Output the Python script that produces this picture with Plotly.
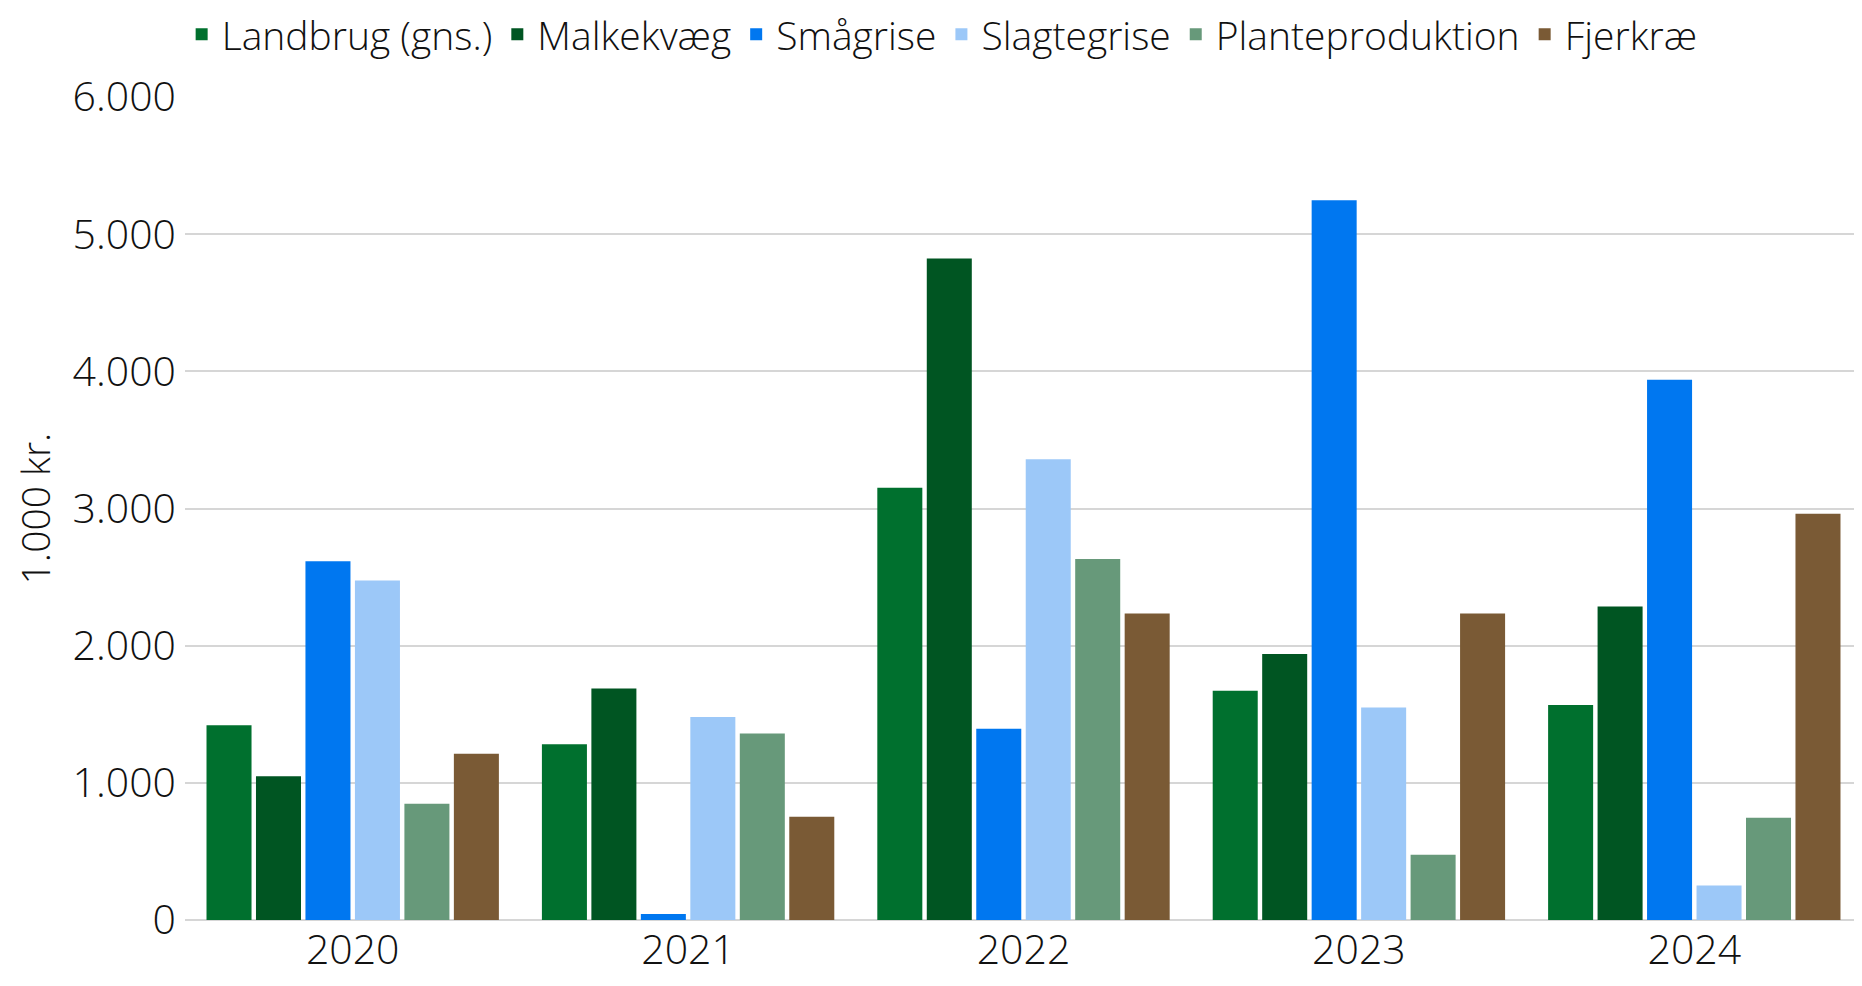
import plotly.graph_objects as go

years = ["2020", "2021", "2022", "2023", "2024"]
series_names = ["Landbrug (gns.)", "Malkekvæg", "Smågrise", "Slagtegrise", "Planteproduktion", "Fjerkræ"]
landbrug = [1420, 1281, 3152, 1671, 1567]
malkekvaeg = [1048, 1688, 4823, 1939, 2286]
smaagrise = [2615, 43, 1394, 5247, 3939]
slagtegrise = [2476, 1480, 3359, 1550, 251]
planteproduktion = [848, 1359, 2632, 476, 745]
fjerkrae = [1212, 753, 2234, 2234, 2961]
colors = ["#00702E", "#005522", "#0077F0", "#9CC8F8", "#67997A", "#7A5A35"]
y_ticks = [0, 1000, 2000, 3000, 4000, 5000, 6000]
y_tick_labels = ["0", "1.000", "2.000", "3.000", "4.000", "5.000", "6.000"]

FONT = "Open Sans"

fig = go.Figure()
for name, vals, col in zip(series_names,
                           [landbrug, malkekvaeg, smaagrise, slagtegrise, planteproduktion, fjerkrae],
                           colors):
    fig.add_trace(go.Bar(x=years, y=vals, name=name,
                         marker=dict(color=col, line=dict(width=0))))

fig.update_layout(
    width=1854, height=970,
    barmode="group", bargap=0.115, bargroupgap=0.09,
    plot_bgcolor="white", paper_bgcolor="white",
    margin=dict(l=177, r=0, t=89, b=58, autoexpand=False),
    font=dict(family=FONT, size=41, color="#111111", weight=300),
    legend=dict(orientation="h", x=-0.002, xanchor="left", y=1.076, yanchor="middle",
                font=dict(size=39, weight=300), itemwidth=30, traceorder="normal",
                bgcolor="rgba(0,0,0,0)", tracegroupgap=0),
    yaxis=dict(range=[0, 6000], tickvals=y_ticks, ticktext=y_tick_labels,
               showgrid=True, gridcolor="#d6d6d6", gridwidth=2,
               zeroline=True, zerolinecolor="#d6d6d6", zerolinewidth=2,
               showline=False, ticks="", ticklabelstandoff=8,
               title=dict(text="1.000 kr.", font=dict(size=39, weight=300), standoff=26)),
    xaxis=dict(showline=False, ticks="", showgrid=False, ticklabelstandoff=2),
)

fig.write_html("out.html")
